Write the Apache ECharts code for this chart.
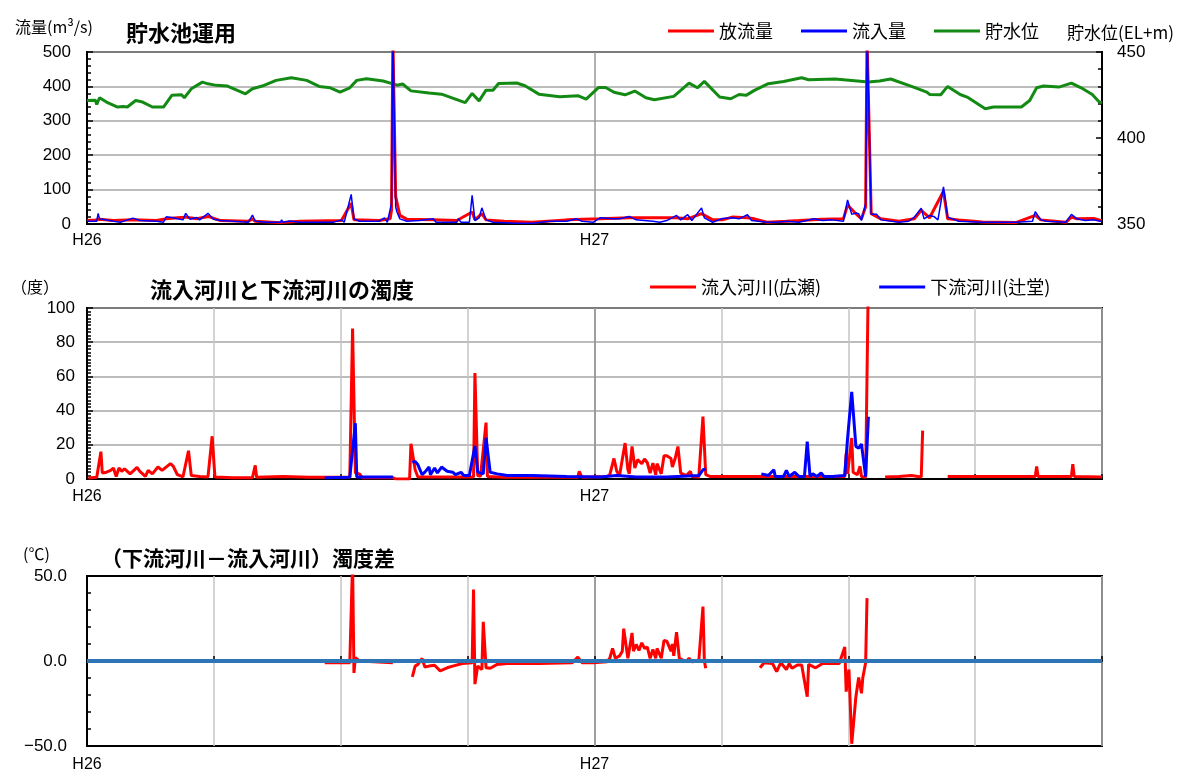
<!DOCTYPE html>
<html lang="ja">
<head>
  <meta charset="UTF-8">
  <title>貯水池運用</title>
  <script src="https://cdn.jsdelivr.net/npm/echarts@6/dist/echarts.min.js"></script>
  <style>body { margin: 0; background: #fff; }</style>
</head>
<body>
  <div id="app" style="width: 1177px; height: 774px;"></div>
  <script>
    // x = days from start of H26 (0) ; H27 starts at day 365, end at 730
    var yearLabels = ['H26', 'H27']
    var daysPerYear = 365

    // 貯水池運用
    var storageLevel = [
      [0, 421.8], [6, 422], [7, 419.5], [9, 423.4], [14, 420.9], [22, 418], [26, 418.3], [29, 418],
      [35, 421.8], [40, 420.9], [47, 418], [55, 418], [61, 424.8], [68, 425.1], [70, 423.4], [75, 428.6],
      [83, 432.5], [87, 431.5], [93, 430.6], [101, 430.2], [114, 425.7], [119, 428.6], [126, 430.2],
      [136, 433.5], [147, 435], [158, 433.5], [167, 430], [175, 429.2], [182, 426.7], [189, 429.2],
      [194, 433.5], [201, 434.5], [213, 433.1], [220, 431.5], [223, 430.7], [227, 431.4], [233, 427.4],
      [246, 426.1], [255, 425.5], [272, 420.6], [277, 425.9], [282, 421.6], [287, 427.8], [292, 427.8],
      [296, 431.7], [309, 432], [315, 430.4], [325, 425.5], [340, 424], [353, 424.6], [359, 422.6],
      [368, 429.4], [373, 429.4], [379, 426.6], [387, 425.1], [394, 427.3], [402, 423.4], [408, 422.2],
      [422, 424.2], [427, 427.7], [433, 431.9], [439, 429.2], [444, 432.9], [455, 423.8], [463, 422.8],
      [469, 425.3], [474, 424.8], [480, 427.7], [490, 431.6], [501, 432.9], [514, 435], [519, 433.9],
      [538, 434.3], [554, 433.1], [562, 432.5], [570, 433.1], [578, 434.3], [593, 430], [604, 426.7],
      [606, 425.3], [614, 425.1], [619, 430], [628, 425.3], [633, 423.8], [646, 417], [652, 418],
      [672, 418], [678, 421.8], [683, 429.2], [688, 430.2], [699, 429.6], [708, 431.9], [715, 429.2],
      [723, 425.3], [728, 420.9], [730, 420.5]
    ]
    var outflow = [
      [0, 10], [6, 12], [9, 14], [19, 10], [33, 12], [50, 10], [57, 15], [65, 18], [71, 20], [79, 15],
      [87, 22], [96, 10], [116, 8], [119, 15], [121, 8], [139, 4], [153, 8], [183, 10], [190, 60],
      [192, 12], [210, 10], [218, 15], [219, 40], [220, 540], [222, 80], [225, 25], [230, 14], [249, 12],
      [266, 10], [277, 35], [279, 12], [284, 30], [287, 12], [300, 8], [320, 5], [345, 12], [369, 15],
      [390, 18], [424, 18], [432, 15], [442, 30], [450, 12], [457, 12], [464, 20], [475, 18], [480, 15],
      [489, 5], [503, 8], [512, 10], [529, 14], [544, 15], [547, 55], [553, 30], [557, 15], [560, 50],
      [561, 540], [564, 30], [571, 15], [584, 8], [595, 15], [600, 40], [606, 18], [616, 95], [619, 15],
      [627, 12], [644, 6], [668, 4], [682, 25], [686, 12], [704, 5], [708, 20], [712, 15], [724, 16],
      [729, 10], [730, 10]
    ]
    var inflow = [
      [0, 8], [7, 8], [8, 31], [9, 15], [19, 8], [24, 5], [33, 17], [38, 10], [50, 8], [55, 5], [57, 21],
      [61, 19], [65, 15], [69, 12], [71, 31], [74, 14], [79, 19], [81, 12], [87, 31], [91, 14], [96, 10],
      [105, 8], [116, 5], [119, 26], [121, 8], [129, 5], [139, 5], [140, 12], [141, 5], [146, 9], [153, 5],
      [177, 5], [183, 12], [185, 5], [190, 86], [192, 15], [196, 8], [210, 8], [214, 18], [216, 5],
      [219, 60], [220, 560], [222, 49], [223, 34], [225, 15], [230, 8], [239, 10], [249, 15], [251, 5],
      [266, 5], [267, 15], [269, 5], [275, 5], [277, 83], [279, 10], [282, 18], [284, 47], [287, 12],
      [292, 5], [309, 2], [320, 2], [333, 8], [345, 8], [352, 15], [356, 8], [364, 5], [369, 18],
      [378, 15], [383, 15], [390, 22], [395, 12], [407, 8], [412, 5], [417, 10], [424, 25], [427, 12],
      [432, 27], [435, 10], [442, 47], [444, 18], [450, 5], [457, 16], [464, 18], [469, 15], [475, 27],
      [478, 10], [489, 5], [496, 5], [503, 8], [512, 5], [523, 15], [529, 10], [536, 12], [544, 8],
      [547, 70], [550, 28], [553, 32], [555, 30], [557, 10], [560, 60], [561, 560], [564, 28], [568, 28],
      [571, 12], [584, 5], [591, 8], [595, 20], [600, 46], [602, 15], [606, 25], [609, 22], [612, 12],
      [616, 108], [619, 20], [627, 8], [644, 5], [668, 5], [680, 8], [682, 36], [686, 12], [690, 8],
      [704, 5], [708, 28], [712, 15], [718, 10], [724, 12], [729, 8], [730, 8]
    ]

    // 流入河川と下流河川の濁度
    var turbInflow = [
      [1, 0.6], [7, 1], [10, 16], [11, 3.5], [14, 4], [17, 5], [19, 6.4], [21, 1.5], [23, 6.4], [25, 4.5],
      [27, 6], [29, 4.5], [31, 3], [36, 6.8], [38, 4.5], [42, 1.5], [44, 5], [47, 3], [51, 7], [54, 5],
      [60, 9], [62, 7.5], [65, 2.5], [69, 1.2], [73, 16.5], [75, 2], [81, 1.5], [87, 1.2], [90, 25],
      [92, 1.2], [105, 0.8], [119, 0.8], [121, 8], [122, 1], [141, 1.5], [160, 1], [171, 1], [189, 1],
      [191, 88], [193, 3.5], [196, 3], [198, 0.8], [220, 0.8], [222, 0], [232, 0], [233, 20.6], [236, 5.4],
      [238, 1.2], [278, 1.2], [279, 62], [281, 2], [283, 1.5], [287, 33], [288, 1.5], [300, 1], [353, 1],
      [354, 4.5], [356, 1], [374, 1.5], [376, 2.5], [379, 12], [381, 4.5], [383, 2], [387, 21], [389, 5.5],
      [390, 3], [392, 19], [394, 6.4], [396, 11.3], [399, 9], [401, 11.7], [403, 9.5], [405, 3.5],
      [407, 9.3], [409, 2.5], [410, 9], [413, 3], [415, 13.6], [417, 13.6], [420, 12], [421, 7], [423, 12],
      [425, 19], [427, 3.5], [431, 2], [434, 4.5], [435, 1.5], [440, 1.2], [443, 36.5], [445, 2.5],
      [448, 1.5], [475, 1.5], [476, 2.5], [478, 1.5], [520, 1.5], [545, 1.5], [546, 15], [547, 3],
      [550, 24], [551, 4], [554, 2.5], [556, 7.4], [557, 1.5], [560, 1], [562, 120], [563, '-'],
      [574, 1.2], [584, 1.5], [593, 2], [600, 1.2], [601, 28.3], [602, '-'],
      [619, 1.5], [682, 1.5], [683, 7.4], [684, 1.5], [708, 1.5], [709, 8.7], [710, 1.5], [730, 1.2]
    ]
    var turbDownstream = [
      [171, 0.8], [189, 1], [190, 1], [193, 32.6], [194, 1.2], [220, 1.2], [227, '-'],
      [234, 9.7], [236, 10.3], [238, 8.3], [241, 2.5], [243, 4], [246, 7], [247, 2.5], [250, 6.4],
      [252, 3.5], [255, 7], [259, 4.5], [263, 4], [265, 2.5], [269, 3.9], [271, 2], [275, 2], [279, 19.4],
      [281, 4], [285, 3], [287, 24], [290, 3.9], [295, 3], [299, 2.5], [302, 2], [320, 2], [345, 1.5],
      [369, 1.2], [381, 2], [395, 1.2], [417, 1.2], [440, 2], [443, 5.4], [445, 5.8], [460, '-'],
      [485, 3], [490, 2], [494, 5.4], [495, 1.5], [501, 1.5], [503, 5], [505, 1.5], [509, 3.9], [512, 1.5],
      [516, 1.5], [518, 21.9], [520, 1.5], [522, 3], [525, 1.5], [528, 3.5], [530, 1.5], [536, 1.5],
      [545, 2], [547, 23.8], [550, 51], [553, 19], [555, 18], [557, 20.5], [560, 1.5], [562, 36.4]
    ]

    // (下流河川－流入河川)濁度差
    var turbDiff = [
      [171, -1], [189, -1], [190, 0], [191, 58], [192, -7], [193, 2], [196, 0], [220, -1], [227, '-'],
      [234, -9.3], [236, -3], [238, -2], [241, 1.5], [243, -3.5], [246, -3], [250, -2.5], [254, -5.8],
      [259, -4], [263, -3], [270, -1.5], [277, -1], [278, 42], [279, -13.6], [281, -3], [284, -5],
      [285, 23], [287, -4], [290, -4.3], [295, -2], [302, -1.5], [325, -1.5], [349, -1], [353, 2.3],
      [356, -1], [364, -1], [374, -0.4], [376, 1.6], [378, 7.4], [380, 1.6], [383, 3], [385, 5.8],
      [386, 19], [389, 1.6], [392, 16.5], [393, 5.8], [395, 9.7], [397, 6.2], [399, 10.7], [401, 7.4],
      [403, 8.2], [405, 1.6], [407, 6.8], [409, 1.6], [410, 7.4], [413, 1.6], [415, 12], [417, 11.7],
      [420, 5.8], [421, 10], [422, 3], [424, 17], [426, 1.6], [431, -0.4], [433, 1.6], [435, -0.4],
      [440, 0], [443, 32], [444, 0], [445, -4.3], [460, '-'],
      [484, -4], [487, -1], [493, -1.5], [496, -6.2], [499, -1], [503, -5], [505, -1.5], [507, -4.3],
      [511, -2.3], [514, -2.3], [518, -21], [519, -2], [524, -4], [529, -1.5], [541, -1.5], [545, 8.2],
      [546, -18], [548, -5], [550, -48.7], [553, -21], [555, -9.7], [557, -19], [558, -9.7], [560, -1],
      [561, 37]
    ]
    var zeroLine = [[0, 0], [730, 0]]

    var jp = '"Noto Sans CJK JP", sans-serif'
    var num = '"Liberation Sans", Arial, sans-serif'

    function yearLabel(v) {
      var i = v / daysPerYear
      return (i === 0 || i === 1) ? yearLabels[i] : ''
    }

    function xAxisFor(grid, interval, grey, margin, ticks) {
      return {
        type: 'value', gridIndex: grid, min: 0, max: 730, interval: interval,
        axisLine: { lineStyle: { color: '#000', width: 2 } },
        axisTick: { show: ticks, inside: true, length: 5, lineStyle: { color: '#000', width: 1.5 } },
        axisLabel: { formatter: yearLabel, color: '#000', fontSize: 16, fontFamily: num, margin: margin },
        splitLine: { show: true, lineStyle: { color: grey, width: 1.5 } }
      }
    }

    function hiddenYearAxis(grid) {
      return {
        type: 'value', gridIndex: grid, min: 0, max: 730, interval: 365,
        axisLine: { show: false }, axisTick: { show: false }, axisLabel: { show: false },
        splitLine: { show: true, lineStyle: { color: '#8c8c8c', width: 1.5 } }
      }
    }

    function yAxisFor(grid, min, max, interval, minor, margin, fmt, split, pos) {
      return {
        type: 'value', gridIndex: grid, min: min, max: max, interval: interval, position: pos || 'left',
        axisLine: { show: true, lineStyle: { color: '#000', width: 2 } },
        axisTick: { show: true, inside: true, length: 6, lineStyle: { color: '#000', width: 1.5 } },
        minorTick: { show: true, splitNumber: minor, length: 4, lineStyle: { color: '#000', width: 1.5 } },
        axisLabel: { color: '#000', fontSize: 17, fontFamily: num, margin: margin, formatter: fmt },
        splitLine: { show: split, lineStyle: { color: '#a6a6a6', width: 1.5 } }
      }
    }

    function lineSeries(name, data, color, width, xi, yi, z) {
      return {
        name: name, type: 'line', data: data, xAxisIndex: xi, yAxisIndex: yi,
        showSymbol: false, symbol: 'none', connectNulls: false, z: z || 2,
        lineStyle: { color: color, width: width }, itemStyle: { color: color }
      }
    }

    var text = function (t, left, top, size, bold) {
      return { text: t, left: left, top: top, textStyle: { fontFamily: jp, fontSize: size, fontWeight: bold ? 'bold' : 'normal', color: '#000' } }
    }

    var legendText = { fontFamily: jp, fontSize: 18, color: '#000' }

    var option = {
      animation: false,
      backgroundColor: '#fff',
      title: [
        text('流量(m³/s)', 10, 14, 16, false),
        text('貯水池運用', 121, 17, 22, true),
        text('貯水位(EL+m)', 1062, 19, 17, false),
        text('（度）', 6, 274, 16, false),
        text('流入河川と下流河川の濁度', 145, 274, 22, true),
        text('(℃)', 18, 541, 16, false),
        text('（下流河川－流入河川）濁度差', 96, 543, 21, true)
      ],
      legend: [
        { data: ['放流量', '流入量', '貯水位'], left: 663, top: 17, icon: 'rect', itemWidth: 46, itemHeight: 3, itemGap: 28, textStyle: legendText },
        { data: ['流入河川(広瀬)', '下流河川(辻堂)'], left: 645, top: 273, icon: 'rect', itemWidth: 46, itemHeight: 3, itemGap: 58, textStyle: legendText }
      ],
      grid: [
        { left: 87, right: 75, top: 52, height: 172, show: true, borderColor: '#000', borderWidth: 2 },
        { left: 87, right: 75, top: 308, height: 171, show: true, borderColor: '#000', borderWidth: 2 },
        { left: 87, right: 75, top: 576, height: 170, show: true, borderColor: '#000', borderWidth: 2 }
      ],
      xAxis: [
        xAxisFor(0, 365, '#999', 9, false),
        xAxisFor(1, 91.25, '#c4c4c4', 10, true),
        xAxisFor(2, 91.25, '#c4c4c4', 11, true),
        hiddenYearAxis(1),
        hiddenYearAxis(2)
      ],
      yAxis: [
        yAxisFor(0, 0, 500, 100, 5, 16, null, true),
        yAxisFor(0, 350, 450, 50, 5, 15, null, false, 'right'),
        yAxisFor(1, 0, 100, 20, 10, 12, null, true),
        yAxisFor(2, -50, 50, 50, 5, 20, function (v) { return (v < 0 ? '−' : '') + Math.abs(v).toFixed(1) }, false)
      ],
      series: [
        lineSeries('貯水位', storageLevel, '#138a13', 3, 0, 1),
        lineSeries('放流量', outflow, '#ff0000', 3, 0, 0),
        lineSeries('流入量', inflow, '#0000ff', 1.5, 0, 0, 3),
        lineSeries('流入河川(広瀬)', turbInflow, '#ff0000', 3, 1, 2),
        lineSeries('下流河川(辻堂)', turbDownstream, '#0000ff', 3, 1, 2, 3),
        lineSeries('濁度差', turbDiff, '#ff0000', 3, 2, 3),
        lineSeries('基準', zeroLine, '#2e75b6', 4, 2, 3, 3)
      ]
    }

    var mCharts = echarts.init(document.querySelector('#app'))
    mCharts.setOption(option)
  </script>
</body>
</html>
